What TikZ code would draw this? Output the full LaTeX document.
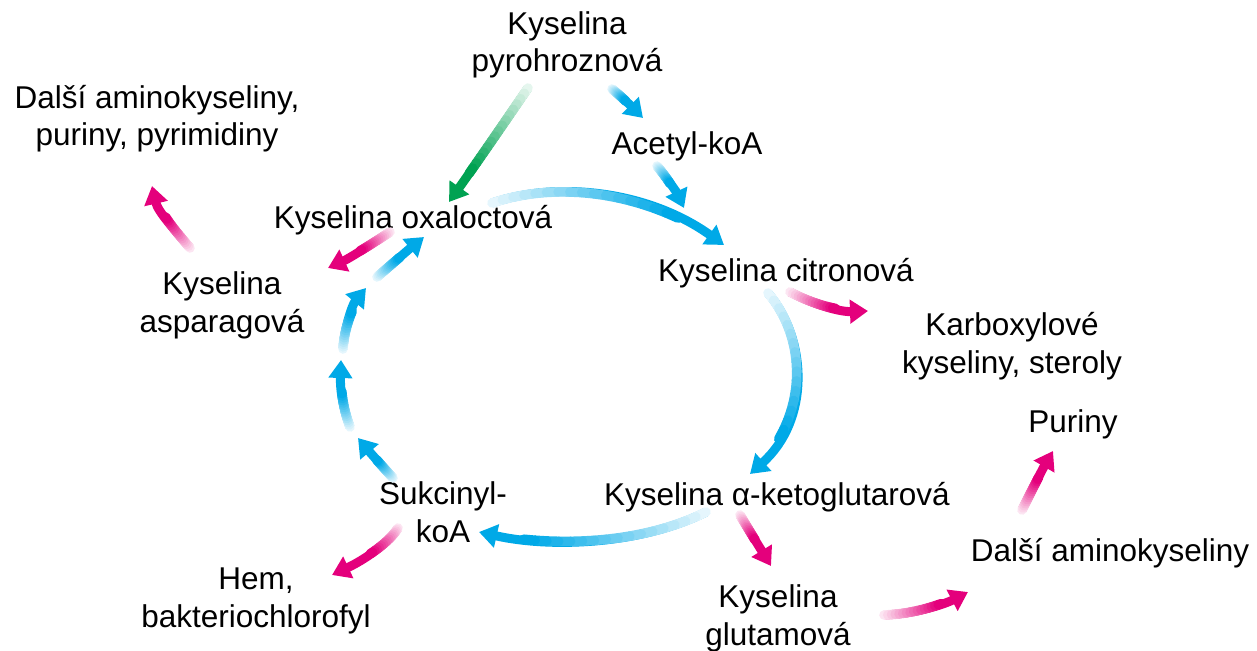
\documentclass[tikz,border=0pt]{standalone}
\usepackage{fontspec}
\setmainfont{Liberation Sans}
\usetikzlibrary{arrows.meta}

\definecolor{flowblue}{RGB}{0,169,231}
\definecolor{flowpink}{RGB}{228,0,124}
\definecolor{flowgreen}{RGB}{0,162,82}

\tikzset{
  term/.style={font=\fontsize{31.5}{37.5}\selectfont, align=center, anchor=base, inner sep=0pt},
  flowbody/.style={line width=9pt},
  flowtip/.style={-{Triangle[length=18pt,width=23pt]}},
}

% A thick curved arrow whose tint ramps up from pale at the tail to full at the head.
% #1 colour, #2 tail, #3 and #4 control points, #5 tip, #6 part of the curve carrying the ramp
\newcommand\rampedarrow[6]{%
  \draw[#1, flowbody, flowtip] (#2) .. controls #3 and #4 .. (#5);
  \foreach \k in {0,...,16}{%
    \pgfmathsetmacro\fpos{#6*\k/16}
    \path (#2) .. controls #3 and #4 .. (#5) coordinate[pos=\fpos] (#2-#5-\k);
  }
  \foreach \k [evaluate=\k as \kk using int(\k+1), evaluate=\k as \pc using 10+90*\k/15] in {0,...,15}
    \draw[#1!\pc, line width=9.6pt, line cap=round] (#2-#5-\k) -- (#2-#5-\kk);
}

\begin{document}
\begin{tikzpicture}[x=1pt, y=-1pt]
\useasboundingbox (0,0) rectangle (1257,650);

% metabolites (multi-line labels sit on the baseline of their last line)
\node[term] (pyr)  at (567,72)  {Kyselina\\pyrohroznová};
\node[term] (dalsi1) at (157,146) {Další aminokyseliny,\\puriny, pyrimidiny};
\node[term] (acet) at (687,154) {Acetyl-koA};
\node[term] (oxal) at (413,228) {Kyselina oxaloctová};
\node[term] (citr) at (786,281) {Kyselina citronová};
\node[term] (aspa) at (222,332) {Kyselina\\asparagová};
\node[term] (karb) at (1012,373) {Karboxylové\\kyseliny, steroly};
\node[term] (puri) at (1073,432) {Puriny};
\node[term] (sukc) at (443,542) {Sukcinyl-\\koA};
\node[term] (keto) at (777,505) {Kyselina α-ketoglutarová};
\node[term] (hem)  at (256,627) {Hem,\\bakteriochlorofyl};
\node[term] (glut) at (778,645) {Kyselina\\glutamová};
\node[term] (dalsi2) at (1110,561) {Další aminokyseliny};

% arrow ends
\coordinate (pyrG) at (528,88);   \coordinate (oxalG) at (449,202);
\coordinate (pyrB) at (612,89);   \coordinate (acetT) at (643,118);
\coordinate (acetB) at (657,166); \coordinate (citrT) at (684,208);
\coordinate (oxalB) at (492,203); \coordinate (citrL) at (724,245);
\coordinate (citrP) at (790,292); \coordinate (karbT) at (868,311);
\coordinate (citrB) at (768,293); \coordinate (ketoT) at (750,474);
\coordinate (ketoB) at (706,512); \coordinate (sukcT) at (479,532);
\coordinate (ketoP) at (740,515); \coordinate (glutT) at (771,566);
\coordinate (glutP) at (884,615); \coordinate (dalsiT) at (968,592);
\coordinate (dalsiP) at (1022,510); \coordinate (puriT) at (1053,451);
\coordinate (sukcB) at (393,478); \coordinate (s1) at (358,438);
\coordinate (s1b) at (350,427);   \coordinate (s2) at (341,360);
\coordinate (s2b) at (343,349);   \coordinate (s3) at (366,288);
\coordinate (s3b) at (377,277);   \coordinate (oxalT) at (424,237);
\coordinate (oxalP) at (390,232); \coordinate (aspaT) at (328,268);
\coordinate (aspaP) at (190,248); \coordinate (dalsi1T) at (152,186);
\coordinate (sukcP) at (398,528); \coordinate (hemT) at (332,575);

% feed of the cycle
\rampedarrow{flowgreen}{pyrG}{(502,126)}{(476,164)}{oxalG}{0.75}
\rampedarrow{flowblue}{pyrB}{(622,97)}{(633,108)}{acetT}{0.45}
\rampedarrow{flowblue}{acetB}{(667,178)}{(677,193)}{citrT}{0.45}

% the cycle
\rampedarrow{flowblue}{oxalB}{(560,180)}{(650,192)}{citrL}{0.8}
\rampedarrow{flowblue}{citrB}{(808,340)}{(810,420)}{ketoT}{0.8}
\rampedarrow{flowblue}{ketoB}{(640,545)}{(550,548)}{sukcT}{0.8}
\rampedarrow{flowblue}{sukcB}{(381,465)}{(368,450)}{s1}{0.45}
\rampedarrow{flowblue}{s1b}{(343,408)}{(340,390)}{s2}{0.6}
\rampedarrow{flowblue}{s2b}{(344,330)}{(352,305)}{s3}{0.6}
\rampedarrow{flowblue}{s3b}{(392,264)}{(408,250)}{oxalT}{0.5}

% branches to biosyntheses
\rampedarrow{flowpink}{citrP}{(815,305)}{(840,312)}{karbT}{0.6}
\rampedarrow{flowpink}{ketoP}{(750,532)}{(760,548)}{glutT}{0.5}
\rampedarrow{flowpink}{glutP}{(915,614)}{(945,604)}{dalsiT}{0.65}
\rampedarrow{flowpink}{dalsiP}{(1032,490)}{(1042,470)}{puriT}{0.55}
\rampedarrow{flowpink}{oxalP}{(370,245)}{(350,258)}{aspaT}{0.5}
\rampedarrow{flowpink}{aspaP}{(175,230)}{(158,212)}{dalsi1T}{0.55}
\rampedarrow{flowpink}{sukcP}{(389,543)}{(364,560)}{hemT}{0.55}
\end{tikzpicture}
\end{document}
